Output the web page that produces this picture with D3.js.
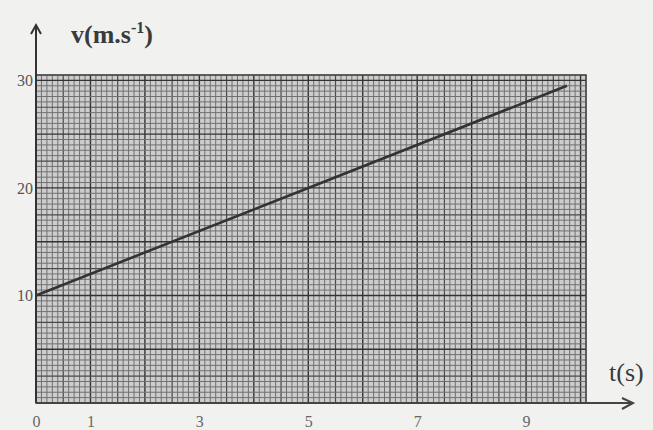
<!DOCTYPE html>
<html>
<head>
<meta charset="utf-8">
<script src="https://cdn.jsdelivr.net/npm/d3@7"></script>
<style>
  body { margin: 0; background: #f1f1ef; }
  svg { display: block; }
  text { font-family: "Liberation Serif", "DejaVu Serif", serif; }
</style>
</head>
<body>
<div id="chart"></div>
<script>
// values
const tTicks = [0, 1, 3, 5, 7, 9];
const vTicks = [10, 20, 30];
const tPoints = [0, 5, 9.75];
const vPoints = [10, 20, 29.5];

const width = 653, height = 430;
const tMax = 10.1, vMax = 30.5;

const svg = d3.select("#chart").append("svg")
    .attr("width", width)
    .attr("height", height);

const x = d3.scaleLinear().domain([0, tMax]).range([36, 586]);
const y = d3.scaleLinear().domain([0, vMax]).range([403, 75]);

// graph paper
const paper = svg.append("g");
paper.append("rect")
    .attr("x", x(0)).attr("y", y(vMax))
    .attr("width", x(tMax) - x(0)).attr("height", y(0) - y(vMax))
    .attr("fill", "#cdcdcd");

function lineStyle(i, every, mid) {
    if (i % every === 0) return {c: "#333", w: 1.4};
    if (i % mid === 0) return {c: "#4a4a4a", w: 1.2};
    return {c: "#707070", w: 1};
}

d3.range(0, Math.round(tMax * 10) + 1).forEach(i => {
    const s = lineStyle(i, 10, 5);
    paper.append("line")
        .attr("x1", x(i / 10)).attr("x2", x(i / 10))
        .attr("y1", y(0)).attr("y2", y(vMax))
        .attr("stroke", s.c).attr("stroke-width", s.w);
});

d3.range(0, Math.round(vMax * 2) + 1).forEach(i => {
    const s = lineStyle(i, 10, 5);
    paper.append("line")
        .attr("x1", x(0)).attr("x2", x(tMax))
        .attr("y1", y(i / 2)).attr("y2", y(i / 2))
        .attr("stroke", s.c).attr("stroke-width", s.w);
});

paper.append("rect")
    .attr("x", x(0)).attr("y", y(vMax))
    .attr("width", x(tMax) - x(0)).attr("height", y(0) - y(vMax))
    .attr("fill", "none").attr("stroke", "#444").attr("stroke-width", 1.5);

// the v(t) line
const line = d3.line().x((d, i) => x(tPoints[i])).y(d => y(d));
svg.append("path")
    .attr("d", line(vPoints))
    .attr("fill", "none")
    .attr("stroke", "#333")
    .attr("stroke-width", 2.6);

// axes with arrows
svg.append("line")
    .attr("x1", x(0)).attr("x2", x(0))
    .attr("y1", y(0)).attr("y2", 25)
    .attr("stroke", "#333").attr("stroke-width", 2);
svg.append("path")
    .attr("d", `M${x(0) - 5},${34} L${x(0)},${25} L${x(0) + 5},${34}`)
    .attr("fill", "none").attr("stroke", "#333").attr("stroke-width", 2);

svg.append("line")
    .attr("x1", x(0)).attr("x2", 633)
    .attr("y1", y(0)).attr("y2", y(0))
    .attr("stroke", "#444").attr("stroke-width", 2);
svg.append("path")
    .attr("d", `M${622},${y(0) - 5} L${633},${y(0)} L${622},${y(0) + 6}`)
    .attr("fill", "none").attr("stroke", "#444").attr("stroke-width", 2);

// tick labels
const xAxis = svg.append("g")
    .attr("transform", `translate(0,${y(0) + 10})`)
    .call(d3.axisBottom(x).tickValues(tTicks).tickSize(0).tickFormat(d3.format("d")));
xAxis.select(".domain").remove();
xAxis.selectAll("text")
    .attr("font-family", "Liberation Serif, serif")
    .attr("font-size", 16)
    .attr("fill", "#666");

const yAxis = svg.append("g")
    .attr("transform", `translate(${x(0) - 2},0)`)
    .call(d3.axisLeft(y).tickValues(vTicks).tickSize(0).tickPadding(1));
yAxis.select(".domain").remove();
yAxis.selectAll("text")
    .attr("font-family", "Liberation Serif, serif")
    .attr("font-size", 16)
    .attr("fill", "#555");

// axis titles
const vLabel = svg.append("text")
    .attr("x", 71).attr("y", 43)
    .attr("font-size", 26)
    .attr("font-weight", "bold")
    .attr("fill", "#3a3a3a");
vLabel.append("tspan").text("v(m.s");
vLabel.append("tspan").attr("dy", -10).attr("font-size", 16).text("-1");
vLabel.append("tspan").attr("dy", 10).text(")");

svg.append("text")
    .attr("x", 609).attr("y", 381)
    .attr("font-size", 26)
    .attr("fill", "#3a3a3a")
    .text("t(s)");
</script>
</body>
</html>
